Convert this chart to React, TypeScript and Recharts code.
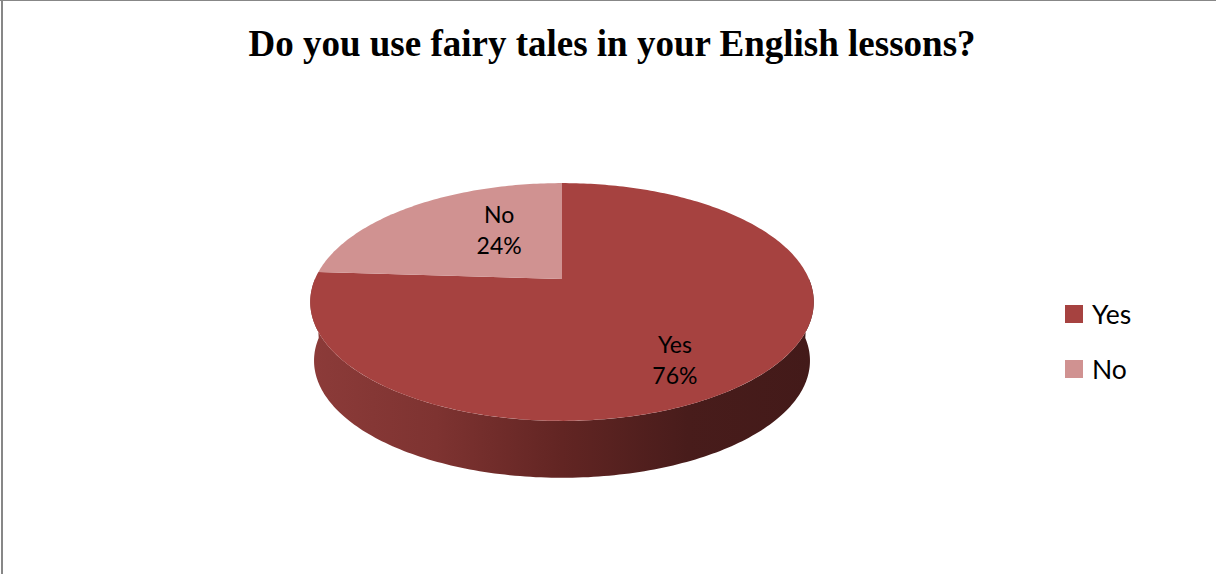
import React from 'react';
import { PieChart, Pie, Cell, Legend } from 'recharts';

const categories = ['Yes', 'No'];
const values = [76, 24];
const colors = ['#A64240', '#D09291'];

const data = categories.map((name, i) => ({ name, value: values[i] }));

const W = 1216;
const H = 574;
const CX = 562;
const CY = 279;
const R = 247;
const K = 0.1933; // perspective strength
const TILT = 0.4634; // vertical squash of the disc
const DEPTH = 0.239; // thickness relative to radius
const BOTTOM_SCALE = 0.985;
const LABEL_FONT = 'Lato, "Open Sans", sans-serif';

function proj(cx: number, cy: number, r: number, deg: number, bottom = false): [number, number] {
  const t = (deg * Math.PI) / 180;
  const u = Math.cos(t);
  const v = Math.sin(t);
  const d = 1 + K * v;
  const s = bottom ? BOTTOM_SCALE : 1;
  const off = bottom ? r * DEPTH : 0;
  return [cx + (s * r * u) / d, cy - (s * r * TILT * v) / d + off];
}

function arcPoints(cx: number, cy: number, r: number, a: number, b: number, bottom = false) {
  const pts: [number, number][] = [];
  const n = Math.max(2, Math.ceil(Math.abs(b - a)));
  for (let i = 0; i <= n; i++) {
    pts.push(proj(cx, cy, r, a + ((b - a) * i) / n, bottom));
  }
  return pts;
}

const toPath = (pts: [number, number][]) =>
  pts.map((p, i) => `${i === 0 ? 'M' : 'L'}${p[0].toFixed(2)},${p[1].toFixed(2)}`).join(' ');

const renderSector = (props: any) => {
  const { cx, cy, outerRadius, startAngle, endAngle, fill } = props;
  const lo = Math.min(startAngle, endAngle);
  const hi = Math.max(startAngle, endAngle);
  const sides: string[] = [];
  for (const k of [-360, 0, 360]) {
    const a = Math.max(lo, -180 + k);
    const b = Math.min(hi, 0 + k);
    if (b > a) {
      const top = arcPoints(cx, cy, outerRadius, a, b, false);
      const bot = arcPoints(cx, cy, outerRadius, b, a, true);
      sides.push(toPath([...top, ...bot]) + ' Z');
    }
  }
  const face = toPath([[cx, cy], ...arcPoints(cx, cy, outerRadius, startAngle, endAngle, false)]) + ' Z';
  const ax = outerRadius / Math.sqrt(1 - K * K);
  return (
    <g>
      <defs>
        <linearGradient
          id="pieSideGrad"
          gradientUnits="userSpaceOnUse"
          x1={cx - ax}
          y1={0}
          x2={cx + ax}
          y2={0}
        >
          <stop offset="0%" stopColor="#8C3B39" />
          <stop offset="25%" stopColor="#7E3331" />
          <stop offset="50%" stopColor="#622523" />
          <stop offset="75%" stopColor="#481C1B" />
          <stop offset="100%" stopColor="#431A19" />
        </linearGradient>
      </defs>
      {sides.map((d, i) => (
        <path key={i} d={d} fill="url(#pieSideGrad)" stroke="none" />
      ))}
      <path d={face} fill={fill} stroke="none" />
    </g>
  );
};

const renderLabel = (props: any) => {
  const { cx, cy, midAngle, outerRadius, percent, name } = props;
  const ax = outerRadius / Math.sqrt(1 - K * K);
  const ay = (outerRadius * TILT) / Math.sqrt(1 - K * K);
  const ecy = cy + (outerRadius * TILT * K) / (1 - K * K);
  const t = (midAngle * Math.PI) / 180;
  const x = cx + 0.51 * ax * Math.cos(t) + 25;
  const yc = ecy - 0.77 * ay * Math.sin(t) - 6.5;
  return (
    <text
      x={x}
      y={yc - 7.5}
      textAnchor="middle"
      fontFamily={LABEL_FONT}
      fontSize={23}
      fill="#000"
    >
      <tspan x={x} y={yc - 7.5}>{name}</tspan>
      <tspan x={x} y={yc + 23.5}>{`${Math.round(percent * 100)}%`}</tspan>
    </text>
  );
};

const renderLegend = () => (
  <div style={{ position: 'relative', width: 130, height: 90 }}>
    {categories.map((c, i) => (
      <div
        key={c}
        style={{
          position: 'absolute',
          left: 0,
          top: i * 55,
          height: 24,
          display: 'flex',
          alignItems: 'center',
        }}
      >
        <div style={{ width: 18, height: 18, background: colors[i], marginRight: 9 }} />
        <span style={{ fontFamily: LABEL_FONT, fontSize: 26.5, color: '#000', lineHeight: '24px' }}>{c}</span>
      </div>
    ))}
  </div>
);

export default function App() {
  return (
    <div style={{ position: 'absolute', left: 0, top: 0, width: W, height: H, background: '#fff' }}>
      <PieChart width={W} height={H} margin={{ top: 0, right: 0, bottom: 0, left: 0 }}>
        <line x1={2} y1={0} x2={2} y2={H} stroke="#878787" strokeWidth={2} />
        <line x1={0} y1={0.5} x2={W} y2={0.5} stroke="#878787" strokeWidth={1} />
        <text
          x={612}
          y={56}
          textAnchor="middle"
          fontFamily='"Liberation Serif", "Times New Roman", serif'
          fontWeight="bold"
          fontSize={37}
          fill="#000"
        >
          Do you use fairy tales in your English lessons?
        </text>
        <Pie
          data={data}
          dataKey="value"
          nameKey="name"
          cx={CX}
          cy={CY}
          outerRadius={R}
          startAngle={90}
          endAngle={-270}
          stroke="none"
          isAnimationActive={false}
          shape={renderSector}
          label={renderLabel}
          labelLine={false}
        >
          {data.map((d, i) => (
            <Cell key={d.name} fill={colors[i]} />
          ))}
        </Pie>
        <Legend
          layout="vertical"
          align="right"
          verticalAlign="top"
          content={renderLegend}
          wrapperStyle={{ left: 1065, top: 302, width: 130 }}
        />
      </PieChart>
    </div>
  );
}
